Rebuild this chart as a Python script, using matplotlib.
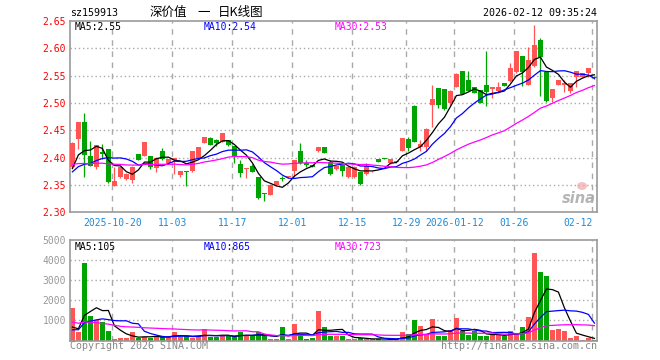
import numpy as np
import matplotlib
matplotlib.use("Agg")
import matplotlib.pyplot as plt
from matplotlib.patches import Ellipse

# ---------------- data ----------------
opens = [2.383, 2.434, 2.465, 2.403, 2.382, 2.410, 2.416, 2.349, 2.365, 2.361,
         2.359, 2.4067, 2.403, 2.403, 2.3817, 2.412, 2.3896, 2.3957, 2.3683, 2.375,
         2.376, 2.400, 2.4268, 2.436, 2.433, 2.4287, 2.433, 2.4207, 2.3884, 2.380,
         2.385, 2.3646, 2.3345, 2.3317, 2.350, 2.3616, 2.364, 2.376, 2.412, 2.3896,
         2.386, 2.412, 2.419, 2.3927, 2.3787, 2.386, 2.365, 2.364, 2.3738, 2.3695,
         2.375, 2.3974, 2.3985, 2.390, 2.392, 2.4127, 2.4334, 2.495, 2.420, 2.420,
         2.4968, 2.5272, 2.5248, 2.4992, 2.5297, 2.5583, 2.5419, 2.5285, 2.5236, 2.5328,
         2.5260, 2.5218, 2.5357, 2.5400, 2.5559, 2.5857, 2.5327, 2.5675, 2.615, 2.5571,
         2.5083, 2.5327, 2.5327, 2.5218, 2.5480, 2.5480, 2.5541, 2.548]
highs = [2.428, 2.465, 2.482, 2.430, 2.424, 2.4256, 2.416, 2.382, 2.383, 2.371,
         2.385, 2.407, 2.429, 2.403, 2.401, 2.4177, 2.398, 2.400, 2.376, 2.375,
         2.412, 2.420, 2.438, 2.437, 2.434, 2.4445, 2.433, 2.421, 2.396, 2.381,
         2.388, 2.365, 2.336, 2.3511, 2.3573, 2.366, 2.3665, 2.396, 2.4262, 2.3957,
         2.387, 2.419, 2.419, 2.395, 2.386, 2.387, 2.384, 2.384, 2.374, 2.3896,
         2.376, 2.398, 2.399, 2.397, 2.394, 2.4364, 2.438, 2.4955, 2.4322, 2.4541,
         2.5327, 2.528, 2.526, 2.523, 2.554, 2.559, 2.5583, 2.529, 2.524, 2.5949,
         2.5297, 2.5376, 2.537, 2.5724, 2.5949, 2.586, 2.6028, 2.6425, 2.618, 2.558,
         2.5254, 2.5419, 2.5419, 2.537, 2.5584, 2.5541, 2.5632, 2.549]
lows = [2.381, 2.4165, 2.365, 2.384, 2.380, 2.3976, 2.354, 2.348, 2.363, 2.360,
        2.354, 2.395, 2.403, 2.380, 2.3744, 2.396, 2.389, 2.370, 2.364, 2.3488,
        2.373, 2.399, 2.426, 2.423, 2.421, 2.428, 2.421, 2.3896, 2.3646, 2.3634,
        2.373, 2.325, 2.3213, 2.331, 2.349, 2.358, 2.363, 2.365, 2.389, 2.3835,
        2.383, 2.411, 2.408, 2.368, 2.378, 2.367, 2.363, 2.362, 2.350, 2.369,
        2.374, 2.392, 2.397, 2.389, 2.391, 2.412, 2.412, 2.4285, 2.4121, 2.4121,
        2.4554, 2.4901, 2.488, 2.497, 2.529, 2.5163, 2.5212, 2.5175, 2.4995, 2.4950,
        2.5084, 2.5175, 2.531, 2.539, 2.555, 2.5315, 2.532, 2.566, 2.5135, 2.5023,
        2.5023, 2.532, 2.5205, 2.518, 2.530, 2.547, 2.548, 2.544]
closes = [2.427, 2.465, 2.404, 2.385, 2.423, 2.407, 2.356, 2.357, 2.382, 2.3695,
          2.3835, 2.3957, 2.4287, 2.382, 2.400, 2.397, 2.397, 2.400, 2.3756, 2.374,
          2.412, 2.419, 2.438, 2.4238, 2.4274, 2.4445, 2.4226, 2.4018, 2.3726, 2.381,
          2.374, 2.3268, 2.333, 2.3506, 2.3573, 2.3609, 2.3665, 2.3957, 2.3896, 2.387,
          2.3835, 2.419, 2.409, 2.370, 2.385, 2.3756, 2.3835, 2.3835, 2.3512, 2.3848,
          2.3755, 2.3925, 2.398, 2.397, 2.393, 2.4364, 2.4170, 2.4291, 2.4243, 2.4517,
          2.5078, 2.4962, 2.4895, 2.5212, 2.5528, 2.5163, 2.5212, 2.5175, 2.5005, 2.5206,
          2.5285, 2.5291, 2.5315, 2.5632, 2.5949, 2.5559, 2.5785, 2.6059, 2.5845, 2.5041,
          2.5254, 2.5419, 2.5358, 2.5370, 2.5584, 2.5541, 2.5632, 2.545]
volumes = [1617, 417, 3867, 1217, 1033, 900, 450, 67, 117, 117,
           400, 133, 150, 120, 233, 233, 167, 400, 167, 200,
           133, 233, 550, 150, 150, 233, 233, 200, 400, 233,
           200, 400, 283, 67, 67, 667, 67, 800, 250, 50,
           117, 1467, 667, 233, 200, 200, 67, 67, 133, 67,
           67, 67, 33, 67, 67, 400, 333, 1000, 700, 300,
           1050, 200, 200, 500, 1100, 450, 283, 450, 233, 233,
           283, 283, 233, 450, 333, 650, 1167, 4367, 3400, 3225,
           500, 550, 450, 120, 200, 40, 130, 35]

# closes / volumes before the visible window (estimated from where the MA lines start)
prior_closes = [2.41, 2.40, 2.39, 2.40, 2.41, 2.39, 2.38, 2.39, 2.40, 2.39,
                2.40, 2.39, 2.38, 2.40, 2.39, 2.40, 2.39, 2.40, 2.39, 2.38,
                2.37, 2.36, 2.37, 2.37, 2.37, 2.34, 2.365, 2.379, 2.389]
prior_volumes = [2200, 1900, 1600, 1800, 2000, 1500, 1700, 1700, 900, 700,
                 600, 800, 500, 600, 700, 500, 600, 700, 600, 580,
                 400, 350, 450, 400, 395, 840, 530, 250, 100]

date_ticks = [7, 17, 27, 37, 47, 56, 64, 74, 87]
date_labels = ["2025-10-20", "11-03", "11-17", "12-01", "12-15", "12-29",
               "2026-01-12", "01-26", "02-12"]
price_ticks = [2.30, 2.35, 2.40, 2.45, 2.50, 2.55, 2.60, 2.65]
vol_ticks = [1000, 2000, 3000, 4000, 5000]
ma_periods = [5, 10, 30]
ma_colors = ["#000000", "#0000ff", "#ff00ff"]
price_ma_labels = ["MA5:2.55", "MA10:2.54", "MA30:2.53"]
vol_ma_labels = ["MA5:105", "MA10:865", "MA30:723"]

# ---------------- helpers ----------------
def moving_avg(prior, vals, n):
    arr = np.array(list(prior) + list(vals), dtype=float)
    out = np.convolve(arr, np.ones(n) / n, mode="valid")
    return out[-len(vals):]

W, H = 660, 360
RED = "#ff5555"
GREEN = "#00a400"
GRID = "#aaaaaa"
BORDER = "#999999"
MONO = "DejaVu Sans Mono"

fig = plt.figure(figsize=(6.6, 3.6), dpi=100)
fig.patch.set_facecolor("white")

def fx(px):
    return px / W

def fy(py):
    return 1 - py / H

L, R = 70.3, 596.7
ax = fig.add_axes([fx(L), fy(212.3), (R - L) / W, (212.3 - 21.0) / H])
axv = fig.add_axes([fx(L), fy(340.5), (R - L) / W, (340.5 - 240.0) / H])

n = len(closes)
x = np.arange(n)
o = np.array(opens); c = np.array(closes); h = np.array(highs); lo = np.array(lows)
up = c >= o
cols = np.where(up, RED, GREEN)
bw = 5 / 6.0

for a in (ax, axv):
    a.set_xlim(-0.35, 87.38)
    for s in a.spines.values():
        s.set_color(BORDER)
        s.set_linewidth(1.2)
    for t in date_ticks:
        a.axvline(t - 0.35, color=GRID, lw=1.0, ls=(0, (4, 4)), zorder=0)

# price grid
for p in price_ticks[1:-1]:
    ax.axhline(p, color=GRID, lw=1.0, ls=(0, (1, 2)), zorder=0)
ax.set_ylim(2.30, 2.65)

# candles
ax.vlines(x, lo, h, colors=cols, lw=0.9, zorder=2)
body_bottom = np.minimum(o, c)
body_h = np.maximum(np.abs(c - o), 0.0012)
ax.bar(x, body_h, bottom=body_bottom, width=bw, color=cols, linewidth=0, zorder=3)

# price MAs
for per, col in zip(ma_periods, ma_colors):
    ax.plot(x, moving_avg(prior_closes, closes, per), color=col, lw=0.9, zorder=4)

ax.set_yticks(price_ticks)
ax.set_yticklabels(["%.2f" % p for p in price_ticks], color="#ff0000",
                   fontfamily=MONO, fontsize=7)
ax.set_xticks([t - 0.35 for t in date_ticks])
ax.set_xticklabels(date_labels, color="#1e8ad8", fontfamily=MONO, fontsize=7)
ax.tick_params(axis="both", length=0)
ax.tick_params(axis="y", pad=3)
ax.tick_params(axis="x", pad=4)
ax.get_xticklabels()[-1].set_horizontalalignment("right")

# volume
for v in vol_ticks[:-1]:
    axv.axhline(v, color=GRID, lw=1.0, ls=(0, (1, 2)), zorder=0)
axv.set_ylim(0, 5000)
axv.bar(x, volumes, width=bw, color=cols, linewidth=0, zorder=2)
for per, col in zip(ma_periods, ma_colors):
    axv.plot(x, moving_avg(prior_volumes, volumes, per), color=col, lw=0.9, zorder=4)
axv.set_yticks(vol_ticks)
axv.set_yticklabels([str(v) for v in vol_ticks], color="#999999",
                    fontfamily=MONO, fontsize=7)
axv.set_xticks([])
axv.tick_params(axis="both", length=0)
axv.tick_params(axis="y", pad=3)

# labels in panels
for lab, col, px in zip(price_ma_labels, ma_colors, [75, 204, 334.7]):
    fig.text(fx(px), fy(26.5), lab, color=col, fontfamily=MONO, fontsize=7,
             ha="left", va="center")
for lab, col, px in zip(vol_ma_labels, ma_colors, [75, 204, 334.7]):
    fig.text(fx(px), fy(246.5), lab, color=col, fontfamily=MONO, fontsize=7,
             ha="left", va="center")

# header
fig.text(fx(70), fy(13), "sz159913", color="black", fontfamily=MONO, fontsize=7.2,
         ha="left", va="center")
cjk = ["Noto Sans CJK SC", "DejaVu Sans"]
fig.text(fx(149.5), fy(12.5), "深价值", fontfamily=cjk, fontsize=9, ha="left", va="center")
fig.text(fx(197), fy(12.5), "一", fontfamily=cjk, fontsize=9, ha="left", va="center")
fig.text(fx(217.5), fy(12.5), "日K线图", fontfamily=cjk, fontsize=9, ha="left", va="center")
fig.text(fx(597), fy(13), "2026-02-12 09:35:24", color="black", fontfamily=MONO,
         fontsize=7.2, ha="right", va="center")

# footer
fig.text(fx(70), fy(346), "Copyright 2026 SINA.COM", color="#888888", fontfamily=MONO,
         fontsize=7.2, ha="left", va="center")
fig.text(fx(597), fy(346), "http://finance.sina.com.cn", color="#888888", fontfamily=MONO,
         fontsize=7.2, ha="right", va="center")

# sina watermark
fig.text(fx(579), fy(198), "sina", color="#a8a8a8", fontsize=10.5, fontstyle="italic",
         fontweight="bold", ha="center", va="center", alpha=0.85)
fig.patches.append(Ellipse((fx(582), fy(186)), 10 / W, 8 / H, transform=fig.transFigure,
                           facecolor="#f0a8a8", edgecolor="none", alpha=0.7))

fig.savefig("out.png", dpi=100, facecolor="white")
